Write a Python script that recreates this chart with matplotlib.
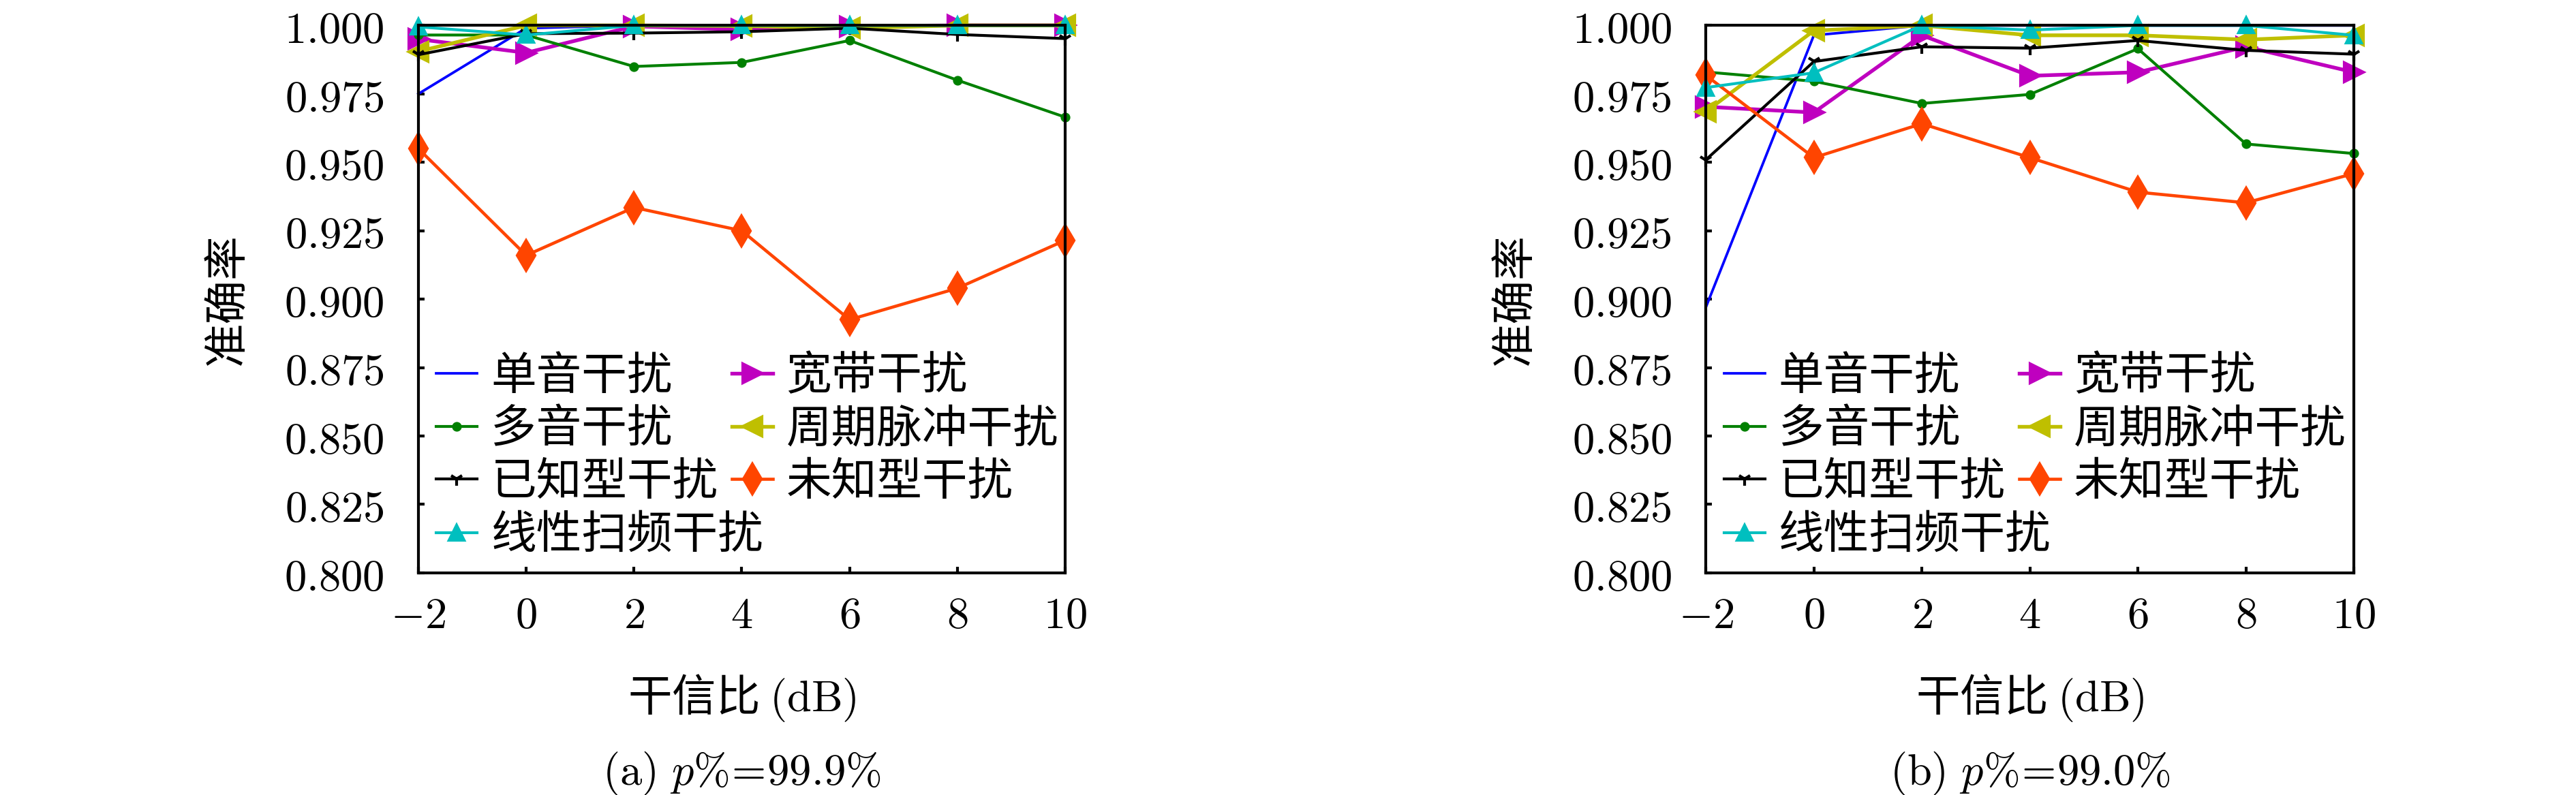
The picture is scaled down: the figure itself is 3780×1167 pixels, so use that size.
import numpy as np
import matplotlib
matplotlib.use("Agg")
import matplotlib.pyplot as plt
from matplotlib.ticker import FixedLocator, FuncFormatter

plt.rcParams["font.family"] = ["Noto Sans CJK SC", "DejaVu Sans"]
plt.rcParams["mathtext.fontset"] = "cm"

# x axis: interference-to-signal ratio (dB)
snr = [-2, 0, 2, 4, 6, 8, 10]

labels = ["单音干扰", "宽带干扰", "多音干扰", "周期脉冲干扰",
          "已知型干扰", "未知型干扰", "线性扫频干扰"]

# (a) p% = 99.9%
single_a = [0.975, 0.999, 1.0, 1.0, 1.0, 1.0, 1.0]
wide_a = [0.995, 0.990, 0.9997, 0.9985, 0.9997, 1.0, 1.0]
multi_a = [0.9965, 0.9965, 0.985, 0.9865, 0.9945, 0.980, 0.9665]
pulse_a = [0.9905, 1.0, 1.0, 0.9998, 0.999, 1.0, 1.0]
known_a = [0.9893, 0.997, 0.9972, 0.9977, 0.999, 0.9967, 0.9952]
unknown_a = [0.955, 0.916, 0.9335, 0.925, 0.8925, 0.904, 0.9215]
sweep_a = [0.9995, 0.9965, 1.0, 1.0, 1.0, 1.0, 1.0]

# (b) p% = 99.0%
single_b = [0.897, 0.9964, 1.0, 1.0, 1.0, 1.0, 1.0]
wide_b = [0.9703, 0.9682, 0.9964, 0.9816, 0.9829, 0.9922, 0.9829]
multi_b = [0.983, 0.9796, 0.9715, 0.9748, 0.9915, 0.9567, 0.9532]
pulse_b = [0.9685, 0.9981, 1.0, 0.9964, 0.9964, 0.9948, 0.9964]
known_b = [0.9509, 0.9868, 0.9922, 0.9917, 0.9945, 0.9909, 0.9895]
unknown_b = [0.9818, 0.9517, 0.9641, 0.9517, 0.9391, 0.9352, 0.9459]
sweep_b = [0.9773, 0.9827, 1.0, 0.9983, 1.0, 1.0, 0.9964]

y_ticks = [0.800, 0.825, 0.850, 0.875, 0.900, 0.925, 0.950, 0.975, 1.000]

styles = [
    dict(color="b", marker=None, lw=0.9),
    dict(color="m", marker=">", ms=6.5, lw=1.3),
    dict(color="g", marker="o", ms=2.4, lw=1.0),
    dict(color="y", marker="<", ms=6.5, lw=1.3),
    dict(color="k", marker="1", ms=5, lw=1.0),
    dict(color="orangered", marker="d", ms=7.5, lw=1.1),
    dict(color="c", marker="^", ms=5.5, lw=1.0),
]

leg_kw = dict(frameon=False, fontsize=16, handlelength=0.9, handletextpad=0.3,
              columnspacing=0.3, labelspacing=0.15, borderaxespad=0.0,
              borderpad=0.0, loc="center left")


def draw_panel(ax, series, caption):
    lines = []
    for vals, lab, st in zip(series, labels, styles):
        ln, = ax.plot(snr, vals, label=lab, clip_on=False, **st)
        lines.append(ln)
    ax.set_xlim(-2, 10)
    ax.set_ylim(0.8, 1.0)
    ax.xaxis.set_major_locator(FixedLocator(snr))
    ax.yaxis.set_major_locator(FixedLocator(y_ticks))
    ax.xaxis.set_major_formatter(FuncFormatter(lambda v, p: f"${int(round(v))}$"))
    ax.yaxis.set_major_formatter(FuncFormatter(lambda v, p: f"${v:.3f}$"))
    ax.tick_params(direction="in", length=2.2, width=1.0, labelsize=15.5,
                   top=False, right=False)
    ax.tick_params(axis="x", pad=7)
    ax.tick_params(axis="y", pad=12)
    for sp in ax.spines.values():
        sp.set_linewidth(1.0)
    ax.set_xlabel(r"干信比 $(\mathrm{dB})$", fontsize=15.5, labelpad=12)
    ax.set_ylabel("准确率", fontsize=15.5, labelpad=12)

    # first six entries in two columns (filled column-first), last one below
    order = [0, 2, 4, 1, 3, 5]
    leg1 = ax.legend([lines[i] for i in order], [labels[i] for i in order],
                     ncol=2, bbox_to_anchor=(0.028, 0.262), **leg_kw)
    ax.add_artist(leg1)
    ax.legend([lines[6]], [labels[6]], bbox_to_anchor=(0.028, 0.068), **leg_kw)

    pos = ax.get_position()
    ax.figure.text((pos.x0 + pos.x1) / 2, 0.027, caption, ha="center",
                   va="center", fontsize=15.5)


fig = plt.figure(figsize=(12.6, 3.89), dpi=300)
ax_a = fig.add_axes([0.1624, 0.2794, 0.2511, 0.6886])
ax_b = fig.add_axes([0.6622, 0.2794, 0.2516, 0.6886])

draw_panel(ax_a, [single_a, wide_a, multi_a, pulse_a, known_a, unknown_a, sweep_a],
           r"$(\mathrm{a})\ p\%\!=\!99.9\%$")
draw_panel(ax_b, [single_b, wide_b, multi_b, pulse_b, known_b, unknown_b, sweep_b],
           r"$(\mathrm{b})\ p\%\!=\!99.0\%$")

fig.savefig("out.png", dpi=300)
